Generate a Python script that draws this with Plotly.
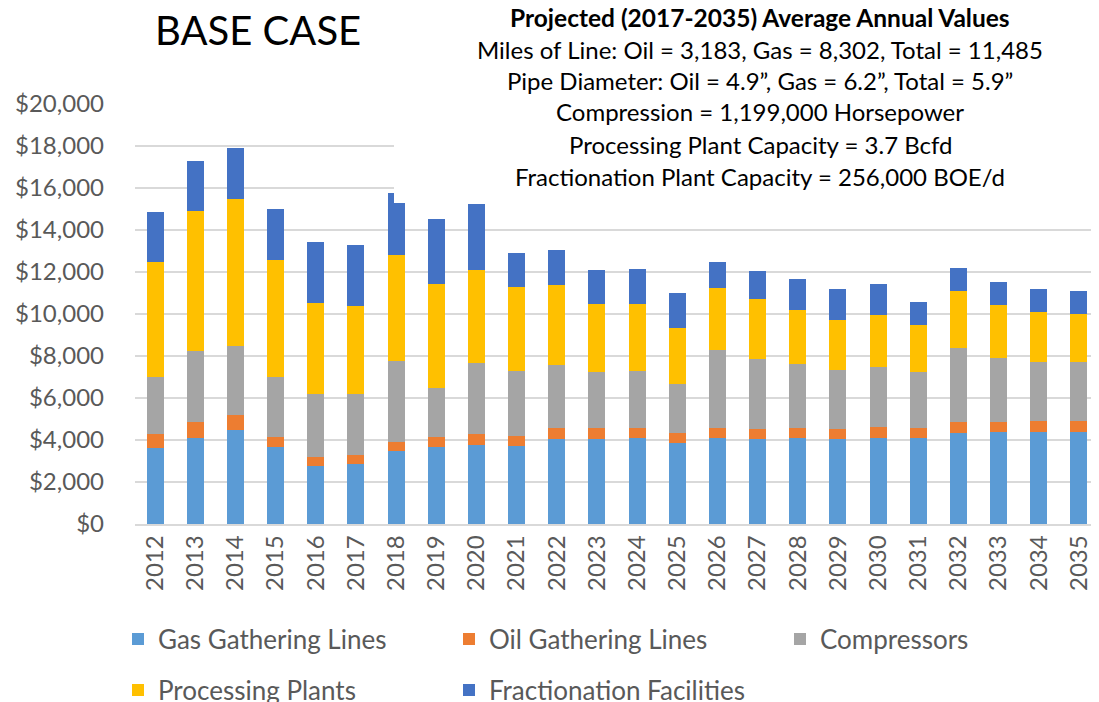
import plotly.graph_objects as go

years = [str(y) for y in range(2012, 2036)]
gas_lines = [3620, 4100, 4480, 3670, 2760, 2860, 3480, 3670, 3760, 3710, 4050, 4050,
             4100, 3860, 4100, 4050, 4100, 4050, 4100, 4100, 4330, 4380, 4380, 4380]
oil_lines = [670, 760, 710, 470, 430, 430, 420, 470, 530, 480, 520, 520,
             470, 470, 470, 470, 470, 470, 520, 470, 530, 480, 520, 520]
compressors = [2710, 3380, 3290, 2860, 3000, 2900, 3860, 2340, 3380, 3100, 3000, 2670,
               2720, 2340, 3720, 3340, 3050, 2810, 2860, 2670, 3520, 3040, 2810, 2810]
processing = [5480, 6660, 7000, 5570, 4330, 4190, 5050, 4950, 4430, 4000, 3810, 3240,
              3190, 2660, 2950, 2850, 2570, 2380, 2470, 2240, 2720, 2530, 2390, 2290]
fractionation = [2380, 2390, 2420, 2430, 2910, 2910, 2950, 3090, 3140, 1610, 1670, 1620,
                 1660, 1670, 1240, 1340, 1480, 1480, 1480, 1090, 1090, 1090, 1090, 1100]

series = [
    ("Gas Gathering Lines", gas_lines, "#5B9BD5", "legend"),
    ("Oil Gathering Lines", oil_lines, "#ED7D31", "legend"),
    ("Compressors", compressors, "#A5A5A5", "legend"),
    ("Processing Plants", processing, "#FFC000", "legend2"),
    ("Fractionation Facilities", fractionation, "#4472C4", "legend2"),
]

title_text = "BASE CASE"
info_title = "Projected (2017-2035) Average Annual Values"
info_lines = [
    "Miles of Line: Oil = 3,183, Gas = 8,302, Total = 11,485",
    "Pipe Diameter: Oil = 4.9\u201d, Gas = 6.2\u201d, Total = 5.9\u201d",
    "Compression = 1,199,000 Horsepower",
    "Processing Plant Capacity = 3.7 Bcfd",
    "Fractionation Plant Capacity = 256,000 BOE/d",
]

FONT = "Lato, Carlito, 'Open Sans', sans-serif"
W, H = 1091, 694  # page body has an 8px margin; screen = fig + 8
L, T, PW, PH = 127, 96, 964, 420

fig = go.Figure()
for name, vals, color, lg in series:
    fig.add_trace(go.Bar(x=years, y=vals, name=name, legend=lg,
                         marker=dict(color=color, line=dict(width=0))))

legend_common = dict(
    orientation="h", xref="paper", yref="paper",
    x=(110 - L) / PW, xanchor="left", yanchor="middle",
    entrywidth=286, entrywidthmode="pixels", traceorder="normal",
    font=dict(size=26, color="#595959", family=FONT),
    bgcolor="rgba(0,0,0,0)",
)

fig.update_layout(
    width=W, height=H,
    barmode="stack", bargap=0.58,
    plot_bgcolor="white", paper_bgcolor="white",
    margin=dict(l=L, r=W - L - PW, t=T, b=H - T - PH, autoexpand=False),
    font=dict(family=FONT, color="#595959"),
    showlegend=True,
    legend=dict(legend_common, y=1 - ((639 - 8) - T) / PH),
    legend2=dict(legend_common, y=1 - ((690 - 8) - T) / PH),
)
fig.update_yaxes(
    range=[0, 20000], dtick=2000, tickprefix="$", tickformat=",d",
    showgrid=True, gridcolor="#D9D9D9", gridwidth=1.5,
    zeroline=False, showline=False,
    tickfont=dict(size=24, color="#595959", family=FONT), ticks="",
    ticklabelstandoff=30,
)
fig.update_xaxes(
    tickangle=-90, tickfont=dict(size=24, color="#595959", family=FONT),
    showline=True, linecolor="#D9D9D9", linewidth=1.5, ticks="",
    range=[-0.5, 23.5],
)

# white text box overlapping the top-right of the plot
fig.add_shape(type="rect", xref="paper", yref="paper", layer="above",
              x0=(394 - 135) / PW, x1=1.0, y0=1 - (203 - 104) / PH, y1=1.3,
              fillcolor="white", line=dict(width=0))

fig.add_annotation(text=title_text, xref="paper", yref="paper",
                   x=(258 - 135) / PW, y=1 + (104 - 30) / PH, xanchor="center", yanchor="middle",
                   showarrow=False, font=dict(size=40, color="black", family=FONT))

fig.add_annotation(text="<b>" + info_title + "</b>", xref="paper", yref="paper",
                   x=(760 - 135) / PW, y=1 + (104 - 17) / PH, xanchor="center", yanchor="middle",
                   showarrow=False, font=dict(size=24.5, color="black", family=FONT))
ys = [49, 80, 111, 144, 176]
for t, yy in zip(info_lines, ys):
    fig.add_annotation(text=t, xref="paper", yref="paper",
                       x=(760 - 135) / PW, y=1 + (104 - yy) / PH, xanchor="center", yanchor="middle",
                       showarrow=False, font=dict(size=24, color="black", family=FONT))

fig.write_html("out.html")
